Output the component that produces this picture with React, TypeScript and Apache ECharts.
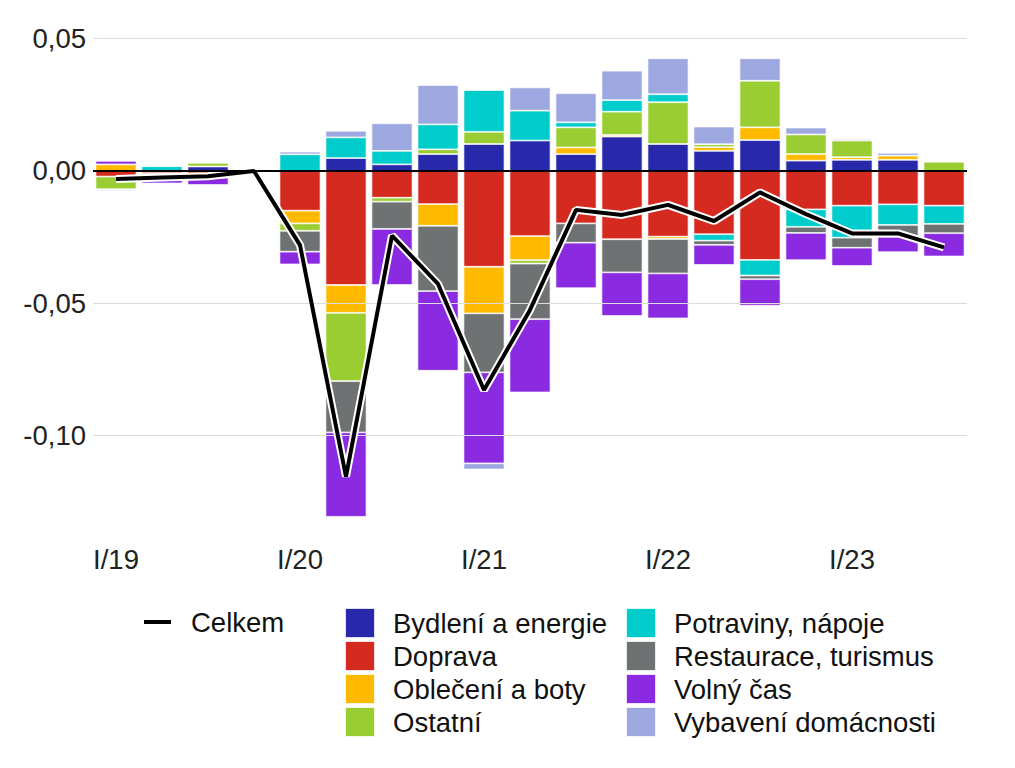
import React, { useEffect, useRef } from "react";
import * as echarts from "echarts";

const categories = [
  "I/19", "II/19", "III/19", "IV/19",
  "I/20", "II/20", "III/20", "IV/20",
  "I/21", "II/21", "III/21", "IV/21",
  "I/22", "II/22", "III/22", "IV/22",
  "I/23", "II/23", "III/23",
];

const bydleni = [0, 0, 0.0017, 0, 0, 0.0049, 0.0025, 0.0064, 0.0102, 0.0115, 0.0064, 0.013, 0.0102, 0.0076, 0.0117, 0.0039, 0.0042, 0.0042, 0];
const doprava = [-0.0021, -0.0008, -0.001, 0, -0.015, -0.0431, -0.0101, -0.0125, -0.0362, -0.0246, -0.0198, -0.0258, -0.0248, -0.0239, -0.0336, -0.0145, -0.0131, -0.0126, -0.0131];
const obleceni = [0.0025, 0, 0, 0, -0.0048, -0.0105, 0, -0.0082, -0.0176, -0.0091, 0.0025, 0.0006, -0.0009, 0.0014, 0.0048, 0.0025, 0.001, 0.0016, 0];
const ostatni = [-0.0048, 0, 0.0014, 0, -0.0028, -0.0258, -0.0015, 0.0018, 0.0046, -0.0013, 0.0076, 0.0088, 0.0158, 0.0011, 0.0176, 0.0074, 0.0063, 0, 0.0035];
const potraviny = [0, 0.0018, 0, 0, 0.0063, 0.0078, 0.0051, 0.0094, 0.0158, 0.0113, 0.0019, 0.0044, 0.003, -0.0024, -0.0059, -0.0066, -0.0121, -0.0078, -0.0069];
const restaurace = [0, -0.0017, -0.0015, 0, -0.0079, -0.0194, -0.0103, -0.0247, -0.0223, -0.021, -0.0073, -0.0125, -0.013, -0.0016, -0.0014, -0.0023, -0.0038, -0.0044, -0.0035];
const volnyCas = [0.0013, -0.0022, -0.0028, 0, -0.0048, -0.0319, -0.0212, -0.0301, -0.0344, -0.0277, -0.0172, -0.0165, -0.017, -0.0076, -0.01, -0.0103, -0.0069, -0.0059, -0.0088];
const vybaveni = [-0.0005, 0, 0, 0, 0.001, 0.0025, 0.0104, 0.0149, -0.0023, 0.0088, 0.011, 0.0111, 0.0136, 0.0067, 0.0085, 0.0026, 0.0006, 0.0011, 0];
const celkem = [-0.003, -0.0025, -0.002, 0, -0.028, -0.1155, -0.0244, -0.0427, -0.0828, -0.0525, -0.0147, -0.0166, -0.0128, -0.0189, -0.0081, -0.0163, -0.0236, -0.0236, -0.0289];

const gridValues = [0.05, -0.05, -0.1];

const barSeries = [
  { name: "Bydlení a energie", data: bydleni, color: "#2828aa" },
  { name: "Doprava", data: doprava, color: "#d52a1f" },
  { name: "Oblečení a boty", data: obleceni, color: "#ffba00" },
  { name: "Ostatní", data: ostatni, color: "#9acd32" },
  { name: "Potraviny, nápoje", data: potraviny, color: "#00cccc" },
  { name: "Restaurace, turismus", data: restaurace, color: "#6e7272" },
  { name: "Volný čas", data: volnyCas, color: "#8a2be2" },
  { name: "Vybavení domácnosti", data: vybaveni, color: "#9ea8e0" },
];

const FONT = "Liberation Sans, Arial, sans-serif";
const FS = 27.5;

export default function App() {
  const ref = useRef<HTMLDivElement>(null);

  useEffect(() => {
    if (!ref.current) return;
    const chart = echarts.init(ref.current, undefined, { renderer: "svg" });

    const series: any[] = [
      {
        name: "_grid",
        type: "line",
        data: categories.map(() => null),
        z: 1,
        silent: true,
        markLine: {
          silent: true,
          symbol: "none",
          label: { show: false },
          lineStyle: { color: "#dcdcdc", width: 1, type: "solid" },
          data: gridValues.map((v) => ({ yAxis: v })),
          animation: false,
        },
      },
      ...barSeries.map((s) => ({
        name: s.name,
        type: "bar",
        stack: "total",
        barWidth: 41,
        z: 2,
        itemStyle: { color: s.color, borderColor: "rgba(255,255,255,0.85)", borderWidth: 0.8 },
        data: s.data.map((v) => (v === 0 ? null : v)),
      })),
      {
        name: "_zero",
        type: "line",
        data: categories.map(() => null),
        z: 3,
        silent: true,
        markLine: {
          silent: true,
          symbol: "none",
          label: { show: false },
          lineStyle: { color: "#000", width: 2, type: "solid" },
          data: [{ yAxis: 0 }],
          animation: false,
        },
      },
      {
        name: "_celkemOutline",
        type: "line",
        data: celkem,
        z: 4,
        symbol: "none",
        silent: true,
        lineStyle: { color: "#ffffff", width: 8 },
        itemStyle: { color: "#ffffff" },
      },
      {
        name: "Celkem",
        type: "line",
        data: celkem,
        z: 5,
        symbol: "none",
        lineStyle: { color: "#000000", width: 4 },
        itemStyle: { color: "#000000" },
      },
    ];

    const legendText = {
      fontSize: FS,
      lineHeight: 30,
      color: "#111",
      fontFamily: FONT,
      padding: [0, 0, 0, 13],
    };

    chart.setOption({
      animation: false,
      textStyle: { fontFamily: FONT },
      grid: { left: 93, right: 48, top: 38.7, bottom: 226.6, containLabel: false },
      xAxis: {
        type: "category",
        data: categories,
        axisLine: { show: false },
        axisTick: { show: false },
        axisLabel: { interval: 3, fontSize: FS, color: "#222", margin: 4, fontFamily: FONT },
        splitLine: { show: false },
      },
      yAxis: {
        type: "value",
        min: -0.14,
        max: 0.05,
        interval: 0.01,
        axisLine: { show: false },
        axisTick: { show: false },
        splitLine: { show: false },
        axisLabel: {
          fontSize: FS,
          color: "#222",
          margin: 7,
          fontFamily: FONT,
          formatter: (v: number) => {
            const k = Math.round(v * 100);
            if (k % 5 !== 0) return "";
            return (k / 100).toFixed(2).replace(".", ",");
          },
        },
      },
      legend: [
        {
          data: [{ name: "Celkem", icon: "rect" }],
          left: 144,
          top: 607,
          padding: 0,
          itemWidth: 27,
          itemHeight: 4,
          textStyle: { ...legendText, padding: [0, 0, 0, 15] },
          selectedMode: false,
        },
        {
          data: barSeries.slice(0, 4).map((s) => ({ name: s.name, icon: "rect" })),
          orient: "vertical",
          left: 344,
          top: 607,
          padding: 0,
          itemWidth: 30,
          itemHeight: 30,
          itemGap: 1,
          textStyle: legendText,
          selectedMode: false,
        },
        {
          data: barSeries.slice(4).map((s) => ({ name: s.name, icon: "rect" })),
          orient: "vertical",
          left: 625,
          top: 607,
          padding: 0,
          itemWidth: 30,
          itemHeight: 30,
          itemGap: 1,
          textStyle: legendText,
          selectedMode: false,
        },
      ],
      series,
    });

    return () => chart.dispose();
  }, []);

  return (
    <div
      ref={ref}
      style={{ position: "fixed", left: 0, top: 0, width: 1015, height: 768, background: "#fff" }}
    />
  );
}
